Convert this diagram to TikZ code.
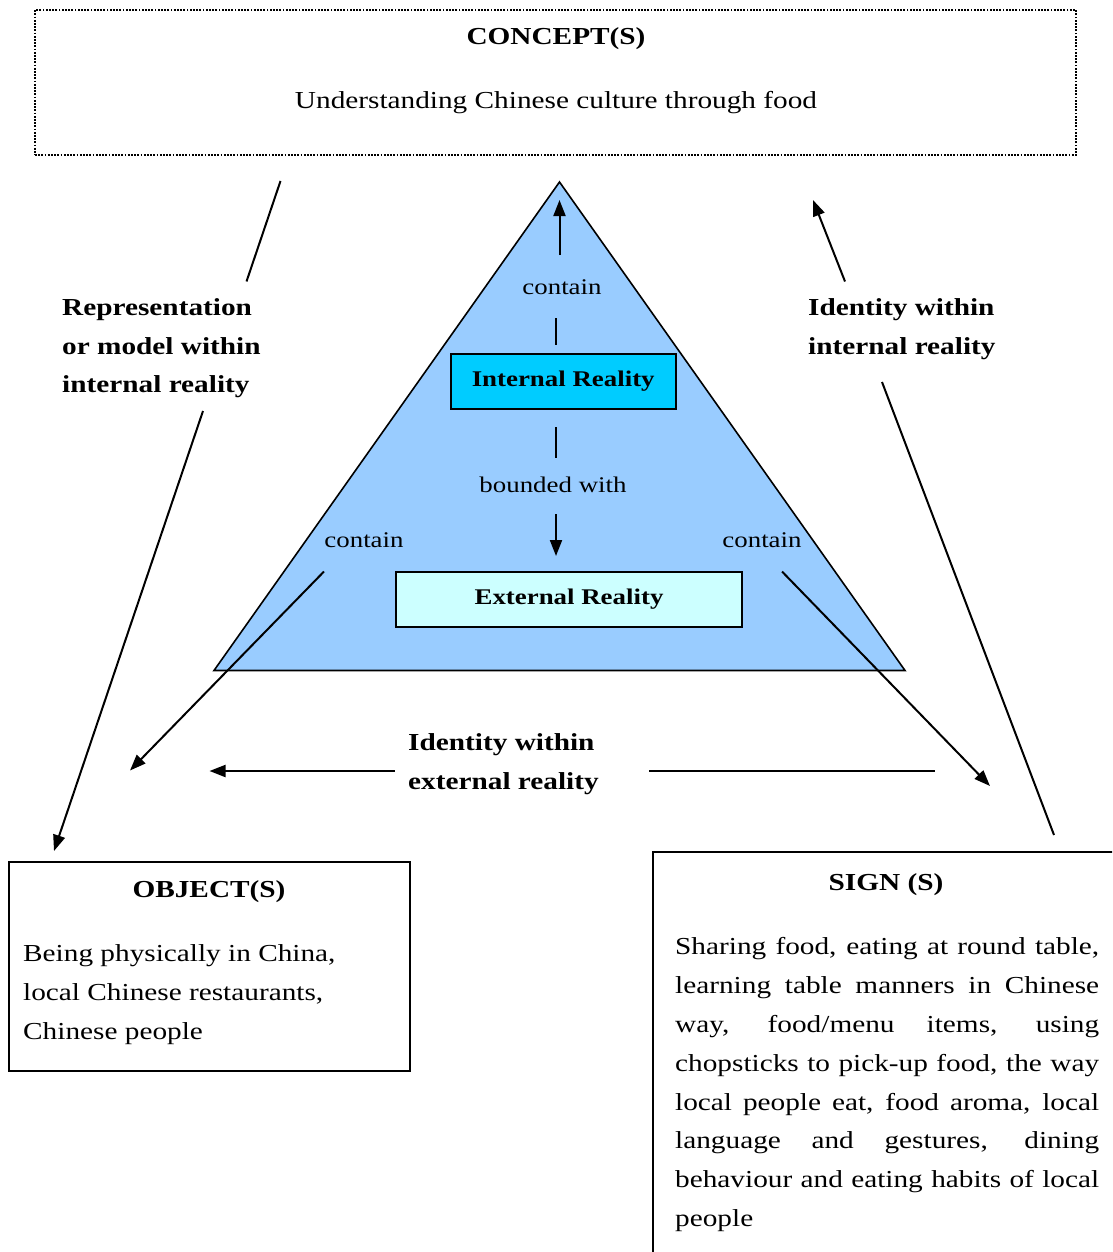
\documentclass[tikz,border=0pt]{standalone}
\usepackage{fontspec}
\setmainfont{Liberation Serif}[FakeStretch=1.2]
\usetikzlibrary{arrows.meta}
\definecolor{triblue}{RGB}{153,204,255}
\definecolor{intblue}{RGB}{0,204,255}
\definecolor{extcyan}{RGB}{204,255,255}
\newcommand\bigsize{\fontsize{24.4pt}{38.8pt}\selectfont}
\newcommand\boldsize{\fontsize{24.4pt}{38.5pt}\selectfont}
\newcommand\smallsize{\fontsize{22.4pt}{30pt}\selectfont}
\begin{document}
\begin{tikzpicture}[x=1pt,y=-1pt,
  link/.style={line width=2pt},
  arrowlink/.style={link,-{Triangle[length=16pt,width=12pt]}},
  bigtext/.style={inner sep=0pt,font=\bigsize},
  boldtext/.style={inner sep=0pt,font=\boldsize\bfseries},
  smalltext/.style={inner sep=0pt,font=\smallsize},
  realitybox/.style={draw,line width=2pt,inner sep=0pt,font=\smallsize\bfseries},
  framebox/.style={draw,line width=1.7pt,inner sep=0pt}]
\useasboundingbox (0,0) rectangle (1112,1252);
\clip (0,0) rectangle (1112,1252);

% concept box
\node[draw,line width=2.2pt,dash pattern=on 1.8pt off 1.4pt,inner sep=0pt,
  minimum width=1041pt,minimum height=145pt] (concept) at (555.5,82.5) {};
\node[boldtext,anchor=base] (conceptT) at (556,45) {CONCEPT(S)};
\node[bigtext,anchor=base] (conceptB) at (556,109) {Understanding Chinese culture through food};

% triangle
\coordinate (apex) at (559.5,182);
\coordinate (bl) at (214,670.5);
\coordinate (br) at (905,670.5);
\path[fill=triblue,draw=black,line width=1.6pt,line join=miter] (apex) -- (bl) -- (br) -- cycle;

\node[realitybox,fill=intblue,minimum width=225pt,minimum height=54.5pt] (internal) at (563.2,381.6) {Internal Reality};
\node[realitybox,fill=extcyan,minimum width=346.5pt,minimum height=55pt] (external) at (569,599.2) {External Reality};

\node[smalltext,anchor=base] (ctop) at (562,294) {contain};
\node[smalltext,anchor=base] (bounded) at (553,492) {bounded with};
\node[smalltext,anchor=base] (cleft) at (364,547) {contain};
\node[smalltext,anchor=base] (cright) at (762,547) {contain};

\coordinate (t1a) at (559.5,255);
\coordinate (t1b) at (559.5,200);
\coordinate (t2a) at (556,318);
\coordinate (t2b) at (556,344.5);
\coordinate (t3a) at (556,427);
\coordinate (t3b) at (556,457.5);
\coordinate (t4a) at (556,514);
\coordinate (t4b) at (556,556);
\draw[arrowlink] (t1a) -- (t1b);
\draw[link] (t2a) -- (t2b);
\draw[link] (t3a) -- (t3b);
\draw[arrowlink] (t4a) -- (t4b);

% side labels
\node[boldtext,anchor=north west,align=left] (leftlab) at (62,298.5)
  {Representation\\or model within\\internal reality};
\node[boldtext,anchor=north west,align=left] (rightlab) at (808,298.5)
  {Identity within\\internal reality};
\node[boldtext,anchor=north west,align=left] (bottomlab) at (408,733.5)
  {Identity within\\external reality};

% object box
\node[framebox,minimum width=401pt,minimum height=209pt] (object) at (209.5,966.5) {};
\node[boldtext,anchor=base] (objectT) at (209,897) {OBJECT(S)};
\node[bigtext,anchor=north west,align=left] (objectB) at (23,944.5)
  {Being physically in China,\\local Chinese restaurants,\\Chinese people};

% sign box
\node[framebox,minimum width=480pt,minimum height=420pt] (sign) at (893,1062) {};
\node[boldtext,anchor=base] (signT) at (886,890) {SIGN (S)};
\node[bigtext,anchor=north west,text width=424pt,align=justify] (signB) at (675,937.5)
  {Sharing food, eating at round table,\linebreak
   learning table manners in Chinese\linebreak
   way, food/menu items, using\linebreak
   chopsticks to pick-up food, the way\linebreak
   local people eat, food aroma, local\linebreak
   language and gestures, dining\linebreak
   behaviour and eating habits of local\linebreak
   people};

% connectors
\coordinate (l1a) at (280.5,181);
\coordinate (l1b) at (246.5,281.5);
\coordinate (l2a) at (203,411);
\coordinate (l2b) at (54,851);
\draw[link] (l1a) -- (l1b);
\draw[arrowlink] (l2a) -- (l2b);

\coordinate (r1a) at (845,281.5);
\coordinate (r1b) at (813,200);
\coordinate (r2a) at (882,382);
\coordinate (r2b) at (1054,835);
\draw[arrowlink] (r1a) -- (r1b);
\draw[link] (r2a) -- (r2b);

\coordinate (cla) at (324,571.5);
\coordinate (clb) at (130,770.5);
\coordinate (cra) at (782,571.5);
\coordinate (crb) at (990,786);
\draw[arrowlink] (cla) -- (clb);
\draw[arrowlink] (cra) -- (crb);

\coordinate (ha) at (394.5,771);
\coordinate (hb) at (209.5,771);
\coordinate (hc) at (649,771);
\coordinate (hd) at (935,771);
\draw[arrowlink] (ha) -- (hb);
\draw[link] (hc) -- (hd);
\end{tikzpicture}
\end{document}
